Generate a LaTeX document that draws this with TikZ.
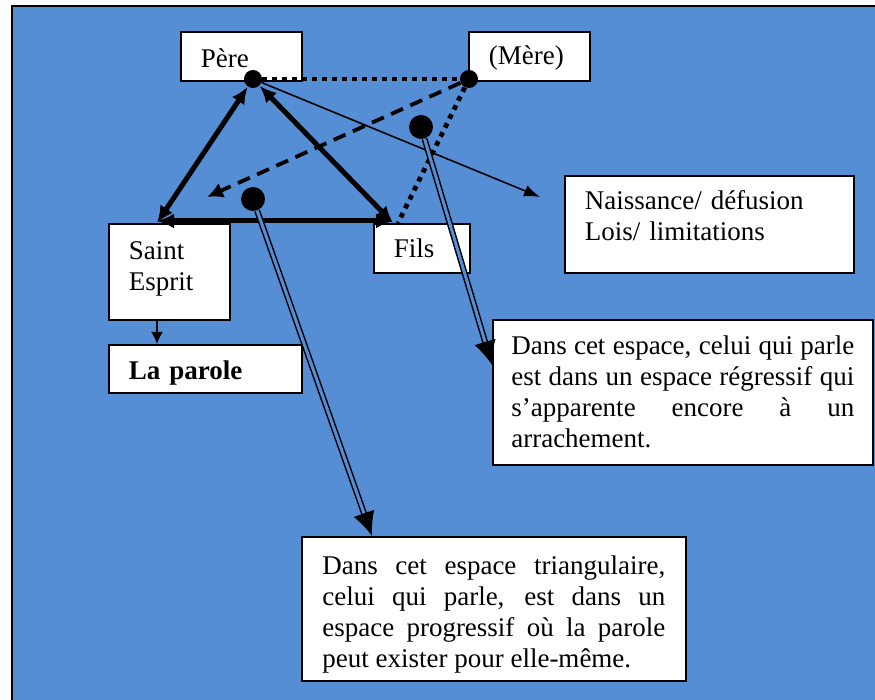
\documentclass[tikz,border=0pt]{standalone}
\usepackage{fontspec}
\setmainfont{Liberation Serif}
\usetikzlibrary{arrows.meta}
\definecolor{fond}{RGB}{85,142,213}
\tolerance=10000
\hbadness=10000

\begin{document}
\begin{tikzpicture}[x=0.5pt,y=-0.5pt,
    boite/.style={draw, fill=white, line width=0.8pt, anchor=north west, inner xsep=10pt, inner ysep=0pt,
        align=left, font=\fontsize{13.5}{15.5}\selectfont},
    rond/.style={circle, fill=black, inner sep=0pt, minimum size=9pt},
    grosrond/.style={rond, minimum size=12pt},
    epais/.style={line width=2.5pt, {Latex[length=8.5pt,width=7.5pt]}-{Latex[length=8.5pt,width=7.5pt]}},
    pointille/.style={line width=2.4pt, dash pattern=on 2.4pt off 2.6pt},
    tirets/.style={line width=1.9pt, dash pattern=on 6.5pt off 4pt, -{Latex[length=8pt,width=8pt]}},
    fin/.style={line width=0.8pt, -{Latex[length=8pt,width=6pt]}},
    doublefleche/.style={double=fond, double distance=1.5pt, line width=0.75pt, -{Latex[length=12pt,width=11pt]}}]
    \useasboundingbox[fill=white] (0,0) rectangle (875,700);
    \draw[fill=fond, line width=1pt] (12,6) rectangle (900,720);

    % les cadres
    \node[boite, minimum width=60.5pt, minimum height=24.5pt, text width=40.5pt] (pere) at (180,31) {\rule{0pt}{11pt}Père};
    \node[boite, minimum width=60.5pt, minimum height=24.5pt, text width=40.5pt] (mere) at (468,31) {\rule{0pt}{11pt}(Mère)};
    \node[boite, minimum width=60.5pt, minimum height=48pt, text width=40.5pt] (se) at (108,223) {Saint\\Esprit\rule[-6pt]{0pt}{6pt}};
    \node[boite, minimum width=96.5pt, minimum height=24pt, text width=76.5pt] (parole) at (108,344) {\rule{0pt}{14pt}\textbf{La parole}};
    \node[boite, minimum width=48pt, minimum height=24.5pt, text width=28pt] (fils) at (373,223) {Fils};
    \node[boite, minimum width=144.5pt, minimum height=48.5pt, text width=124.5pt] (naiss) at (564,175)
        {Naissance/ défusion\\Lois/ limitations\rule[-9pt]{0pt}{9pt}};
    \node[boite, minimum width=190pt, minimum height=72.5pt, text width=171.5pt, inner xsep=9.25pt, align=justify] (reg) at (492,319)
        {Dans cet espace, celui qui parle\linebreak est dans un espace régressif qui\linebreak s’apparente encore à un\linebreak arrachement.};
    \node[boite, minimum width=192pt, minimum height=72pt, text width=171.5pt, inner xsep=10.25pt, align=justify] (tri) at (301,536)
        {\rule{0pt}{15.2pt}Dans cet espace triangulaire,\linebreak celui qui parle, est dans un\linebreak espace progressif où la parole\linebreak peut exister pour elle-même.};

    % les points
    \node[rond] (dp) at (253,79) {};
    \node[rond] (dm) at (469,79) {};
    \node[grosrond] (d1) at (421,127) {};
    \node[grosrond] (d2) at (253,199) {};

    \coordinate (bout tirets) at (207,197);
    \coordinate (bout fin) at (540,197);

    \draw[pointille] (dp) -- (dm);
    \draw[pointille] (dm) -- ([xshift=12.5pt]fils.north west);
    \draw[tirets] (dm) -- (bout tirets);
    \draw[epais] (dp) -- ([xshift=24.5pt]se.north west);
    \draw[epais] (dp) -- ([xshift=10pt]fils.north west);
    \draw[epais] ([xshift=24.5pt,yshift=1pt]se.north west) -- ([xshift=10pt,yshift=1pt]fils.north west);
    \draw[fin] (dp) -- (bout fin);
    \draw[doublefleche] (d2) -- ([xshift=35.5pt]tri.north west);
    \draw[doublefleche] (d1) -- ([yshift=-23pt]reg.north west);
    \draw[line width=0.8pt, -{Latex[length=6pt,width=6pt]}] ([xshift=24.5pt]se.south west) -- ([xshift=24.5pt]parole.north west);
\end{tikzpicture}
\end{document}
